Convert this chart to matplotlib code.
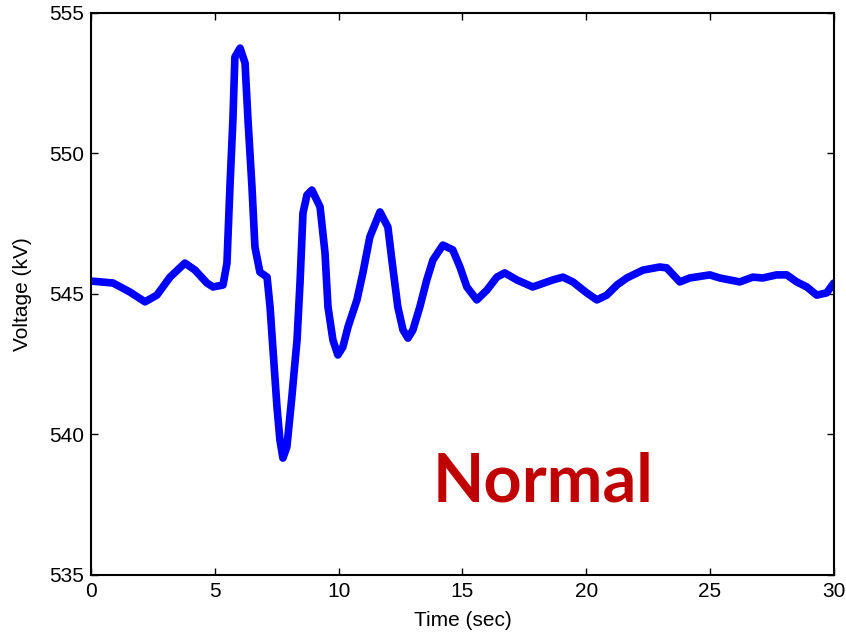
import matplotlib.pyplot as plt

# voltage trace
time_sec = [0.0, 0.89, 1.57, 2.18, 2.66, 3.19, 3.79, 4.20, 4.68, 4.93, 5.33,
            5.49, 5.61, 5.73, 5.81, 6.02, 6.22, 6.34, 6.50, 6.62, 6.82, 7.11,
            7.23, 7.35, 7.51, 7.63, 7.75, 7.91, 8.11, 8.32, 8.44, 8.56, 8.72,
            8.92, 9.25, 9.45, 9.57, 9.77, 9.97, 10.17, 10.38, 10.74, 10.98,
            11.26, 11.67, 11.99, 12.15, 12.39, 12.60, 12.80, 13.00, 13.28,
            13.56, 13.81, 14.21, 14.61, 14.90, 15.18, 15.58, 15.99, 16.39,
            16.71, 17.20, 17.84, 18.65, 19.06, 19.46, 20.02, 20.43, 20.83,
            21.24, 21.64, 22.29, 22.97, 23.25, 23.78, 24.18, 24.99, 25.39,
            26.20, 26.73, 27.13, 27.69, 28.10, 28.50, 28.91, 29.31, 29.71, 30.0]
voltage_kv = [545.46, 545.39, 545.07, 544.72, 544.96, 545.60, 546.10, 545.85,
              545.39, 545.25, 545.32, 546.10, 548.81, 551.19, 553.43, 553.75,
              553.22, 551.19, 548.81, 546.67, 545.78, 545.60, 544.54, 543.01,
              540.98, 539.80, 539.16, 539.56, 541.33, 543.36, 545.39, 547.88,
              548.52, 548.70, 548.10, 546.46, 544.54, 543.36, 542.83, 543.11,
              543.83, 544.79, 545.75, 547.03, 547.92, 547.38, 546.21, 544.54,
              543.72, 543.43, 543.72, 544.54, 545.50, 546.21, 546.74, 546.57,
              545.96, 545.25, 544.79, 545.14, 545.60, 545.75, 545.50, 545.25,
              545.50, 545.60, 545.43, 545.04, 544.79, 544.96, 545.32, 545.57,
              545.85, 545.96, 545.93, 545.43, 545.57, 545.68, 545.57, 545.43,
              545.60, 545.57, 545.68, 545.68, 545.43, 545.25, 544.96, 545.04,
              545.39]

xticks = [0, 5, 10, 15, 20, 25, 30]
yticks = [535, 540, 545, 550, 555]

plt.rcParams['font.family'] = ['Liberation Sans', 'DejaVu Sans']

fig = plt.figure(figsize=(8.46, 6.34), dpi=100)
ax = fig.add_axes([0.1076, 0.0931, 0.878, 0.8864])

ax.plot(time_sec, voltage_kv, color='#0000ff', linewidth=5.5,
        solid_joinstyle='round', solid_capstyle='round')

ax.set_xlim(0, 30)
ax.set_ylim(535, 555)
ax.set_xticks(xticks)
ax.set_yticks(yticks)
ax.tick_params(direction='in', length=5, width=1, labelsize=15,
               top=True, right=True, pad=5)
for s in ax.spines.values():
    s.set_linewidth(1.5)

ax.set_xlabel('Time (sec)', fontsize=15, labelpad=7)
ax.set_ylabel('Voltage (kV)', fontsize=15, labelpad=12)

ax.text(13.8, 537.6, 'Normal', color='#c00000', fontsize=48,
        fontweight='bold', family=['Lato', 'DejaVu Sans'], va='baseline')

fig.savefig('out.png', dpi=100)
